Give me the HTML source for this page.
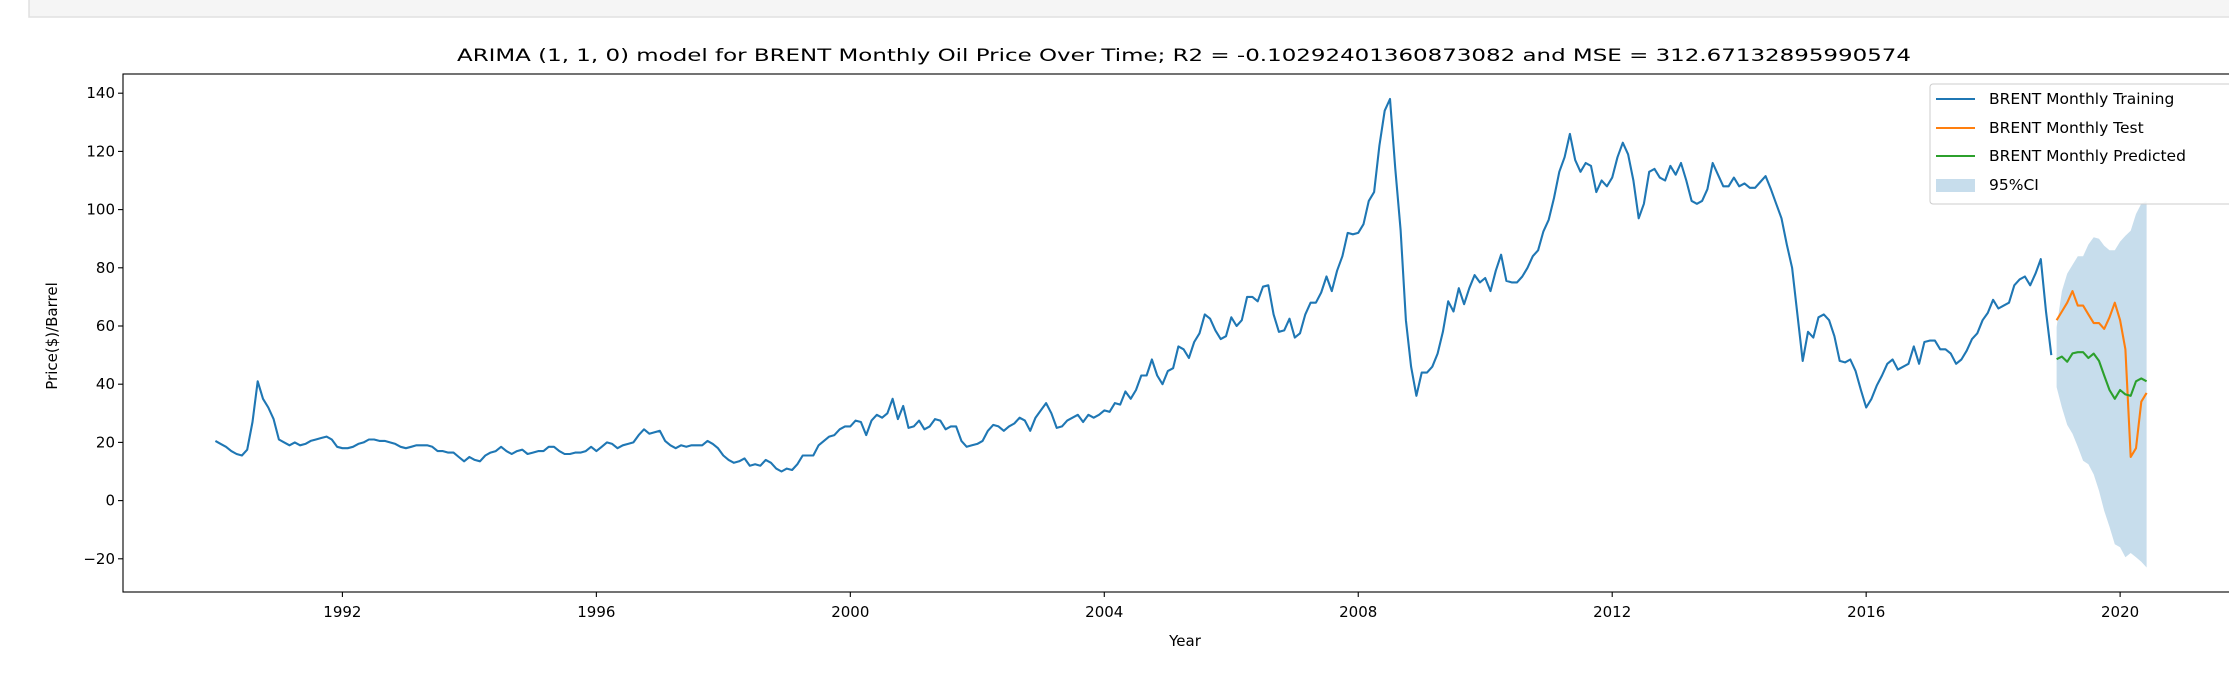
<!DOCTYPE html>
<html>
<head>
<meta charset="utf-8">
<style>
  html,body{margin:0;padding:0;background:#fff;}
  svg{display:block;font-family:"DejaVu Sans","Liberation Sans",sans-serif;}
</style>
</head>
<body>
<svg id="chart" width="2229" height="684" viewBox="0 0 2229 684" xmlns="http://www.w3.org/2000/svg">
  <rect x="29" y="-2" width="2210" height="19" fill="#f5f5f5" stroke="#e0e0e0" stroke-width="1.5"/>
  <text x="1184" y="61" text-anchor="middle" font-size="17" textLength="1454" lengthAdjust="spacingAndGlyphs" fill="#000">ARIMA  (1, 1, 0) model for BRENT Monthly Oil Price Over Time; R2 = -0.10292401360873082 and MSE = 312.67132895990574</text>
  <g id="plot"></g>
  <text transform="translate(57,336) rotate(-90)" text-anchor="middle" font-size="15" fill="#000">Price($)/Barrel</text>
  <text x="1185" y="646" text-anchor="middle" font-size="15" fill="#000">Year</text>
</svg>
<script>
const trainStartYear = 1990;
const trainValues = [
  20.5,19.5,18.5,17,16,15.5,17.5,27,41,35,32,28,
  21,20,19,20,19,19.5,20.5,21,21.5,22,21,18.5,
  18,18,18.5,19.5,20,21,21,20.5,20.5,20,19.5,18.5,
  18,18.5,19,19,19,18.5,17,17,16.5,16.5,15,13.5,
  15,14,13.5,15.5,16.5,17,18.5,17,16,17,17.5,16,
  16.5,17,17,18.5,18.5,17,16,16,16.5,16.5,17,18.5,
  17,18.5,20,19.5,18,19,19.5,20,22.5,24.5,23,23.5,
  24,20.5,19,18,19,18.5,19,19,19,20.5,19.5,18,
  15.5,14,13,13.5,14.5,12,12.5,12,14,13,11,10,
  11,10.5,12.5,15.5,15.5,15.5,19,20.5,22,22.5,24.5,25.5,
  25.5,27.5,27,22.5,27.5,29.5,28.5,30,35,28,32.5,25,
  25.5,27.5,24.5,25.5,28,27.5,24.5,25.5,25.5,20.5,18.5,19,
  19.5,20.5,24,26,25.5,24,25.5,26.5,28.5,27.5,24,28.5,
  31,33.5,30,25,25.5,27.5,28.5,29.5,27,29.5,28.5,29.5,
  31,30.5,33.5,33,37.5,35,38,43,43,48.5,43,40,
  44.5,45.5,53,52,49,54.5,57.5,64,62.5,58.5,55.5,56.5,
  63,60,62,70,70,68.5,73.5,74,64,58,58.5,62.5,
  56,57.5,64,68,68,71.5,77,72,79,84,92,91.5,
  92,95,103,106,122,134,138,114,93,62,46,36,
  44,44,46,50.5,58,68.5,65,73,67.5,73,77.5,75,
  76.5,72,79,84.5,75.5,75,75,77,80,84,86,92.5,
  96.5,104,113,118,126,117,113,116,115,106,110,108,
  111,118,123,119,110,97,102,113,114,111,110,115,
  112,116,110,103,102,103,107,116,112,108,108,111,
  108,109,107.5,107.5,109.5,111.5,107,102,97,88,80,64,
  48,58,56,63,64,62,56.5,48,47.5,48.5,44.5,38,
  32,35,39.5,43,47,48.5,45,46,47,53,47,54.5,
  55,55,52,52,50.5,47,48.5,51.5,55.5,57.5,62,64.5,
  69,66,67,68,74,76,77,74,78,83,65,50
];
const testStartYear = 2019;
const testValues = [62,65,68,72,67,67,64,61,61,59,63,68,62,52,15,18,34,37];
const predValues = [48.6,49.5,47.7,50.6,51,51,49,50.5,48,43,38,35,38,36.5,36,41,42,41];
const ciUpper = [59.6,72,78,81,84,84,88,90.5,90,87.6,86,86,89,91,92.7,98.5,102,103];
const ciLower = [39,32,26,23,18.5,13.7,12.5,9,3.4,-3.5,-9,-15,-16,-19.5,-18,-19.5,-21,-23];
const yTicks = [-20,0,20,40,60,80,100,120,140];
const xTicks = [1992,1996,2000,2004,2008,2012,2016,2020];

const AX_L=123, AX_T=74, AX_B=592, AX_R=2245;
function xs(t){return 342.4+(t-1992)*63.49;}
function ys(v){return 500.6-v*2.91;}
const NS="http://www.w3.org/2000/svg";
const plot=document.getElementById('plot');
function mk(tag,attrs){const e=document.createElementNS(NS,tag);for(const k in attrs)e.setAttribute(k,attrs[k]);plot.appendChild(e);return e;}

// CI band
let d='';
ciUpper.forEach((v,i)=>{const t=testStartYear+i/12;d+=(i?'L':'M')+xs(t).toFixed(1)+','+ys(v).toFixed(1);});
for(let i=ciLower.length-1;i>=0;i--){const t=testStartYear+i/12;d+='L'+xs(t).toFixed(1)+','+ys(ciLower[i]).toFixed(1);}
d+='Z';
const band=mk('path',{d:d,fill:'#1f77b4','fill-opacity':'0.25',stroke:'none'});



function line(vals,start,color,name){
  const pts=vals.map((v,i)=>xs(start+i/12).toFixed(1)+','+ys(v).toFixed(1)).join(' ');
  const p=mk('polyline',{points:pts,fill:'none',stroke:color,'stroke-width':'2.1','stroke-linejoin':'round'});
  
  
}
line(trainValues,trainStartYear,'#1f77b4','training-line');
line(testValues,testStartYear,'#ff7f0e','test-line');
line(predValues,testStartYear,'#2ca02c','predicted-line');

// axes frame
const frame=mk('rect',{x:AX_L,y:AX_T,width:AX_R-AX_L,height:AX_B-AX_T,fill:'none',stroke:'#000','stroke-width':'1.1'});



yTicks.forEach(v=>{
  const y=ys(v);
  const tk=mk('line',{x1:AX_L-5,x2:AX_L,y1:y,y2:y,stroke:'#000','stroke-width':'1.1'});
  
  
  const tx=mk('text',{x:AX_L-8,y:y+5,'text-anchor':'end','font-size':'15',fill:'#000'});
  tx.textContent=(v<0?'\u2212'+Math.abs(v):String(v));
  
  
});
xTicks.forEach(v=>{
  const x=xs(v);
  const tk=mk('line',{x1:x,x2:x,y1:AX_B,y2:AX_B+5,stroke:'#000','stroke-width':'1.1'});
  
  
  const tx=mk('text',{x:x,y:AX_B+25,'text-anchor':'middle','font-size':'15',fill:'#000'});
  tx.textContent=String(v);
  
  
});

// legend
const lg=mk('rect',{x:1930,y:84,width:320,height:120,rx:3,fill:'#fff','fill-opacity':'0.85',stroke:'#ccc','stroke-width':'1'});


const legendLabels=['BRENT Monthly Training','BRENT Monthly Test','BRENT Monthly Predicted','95%CI'];
const legendColors=['#1f77b4','#ff7f0e','#2ca02c','band'];
const legendY=[99,128,156,185];
legendLabels.forEach((lab,i)=>{
  const y=legendY[i];
  let h;
  if(legendColors[i]==='band'){h=mk('rect',{x:1936,y:y-6,width:39,height:13,fill:'#1f77b4','fill-opacity':'0.25'});}
  else{h=mk('line',{x1:1936,x2:1975,y1:y,y2:y,stroke:legendColors[i],'stroke-width':'2.1'});}
  
  
  const t=mk('text',{x:1989,y:y+5,'font-size':'15.5',fill:'#000'});
  t.textContent=lab;
  
  
});
</script>
</body>
</html>
